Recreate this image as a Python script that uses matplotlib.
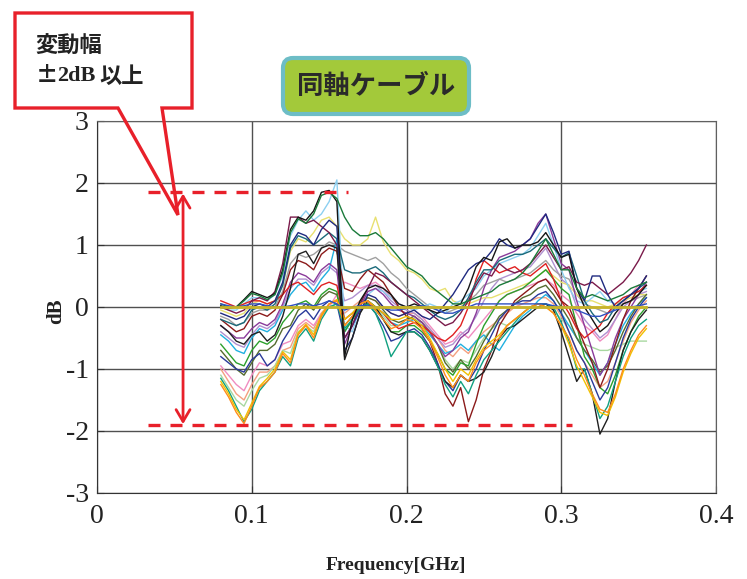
import matplotlib
matplotlib.use("Agg")
import matplotlib.pyplot as plt
from matplotlib.patches import Polygon, Rectangle, FancyBboxPatch
from matplotlib.transforms import IdentityTransform

plt.rcParams['axes.unicode_minus'] = False

# sampling grid (GHz)
freq = [0.080, 0.085, 0.090, 0.095, 0.100, 0.105, 0.110, 0.115,
        0.120, 0.125, 0.130, 0.135, 0.140, 0.145, 0.150, 0.155,
        0.160, 0.165, 0.170, 0.175, 0.180, 0.185, 0.190, 0.195,
        0.200, 0.205, 0.210, 0.215, 0.220, 0.225, 0.230, 0.235,
        0.240, 0.245, 0.250, 0.255, 0.260, 0.265, 0.270, 0.275,
        0.280, 0.285, 0.290, 0.295, 0.300, 0.305, 0.310, 0.315,
        0.320, 0.325, 0.330, 0.335, 0.340, 0.345, 0.350, 0.355]

# dB deviation of each cable
green_top = [0.05, 0.00, 0.00, 0.10, 0.22, 0.18, 0.12, 0.20,
             0.55, 1.20, 1.42, 1.35, 1.50, 1.80, 1.85, 1.75,
             1.45, 1.25, 1.15, 1.15, 1.20, 1.10, 0.95, 0.80,
             0.65, 0.58, 0.50, 0.35, 0.25, 0.15, 0.05, 0.05,
             0.10, 0.15, 0.20, 0.25, 0.35, 0.40, 0.45, 0.55,
             0.70, 0.90, 1.10, 0.85, 0.60, 0.60, 0.30, 0.15,
             0.20, 0.15, 0.10, 0.15, 0.20, 0.30, 0.35, 0.40]
black_top = [0.02, -0.02, 0.00, 0.12, 0.25, 0.20, 0.15, 0.22,
             0.60, 1.25, 1.45, 1.40, 1.55, 1.85, 1.88, 1.70,
             -0.80, -0.20, 0.10, 0.30, 0.35, 0.30, 0.20, 0.05,
             0.00, 0.05, 0.00, -0.05, -0.10, -0.05, 0.00, 0.05,
             0.30, 0.65, 0.80, 0.75, 1.05, 1.10, 0.95, 1.00,
             1.00, 1.05, 1.20, 1.00, 0.80, 0.85, 0.30, 0.00,
             -0.20, -0.40, -0.30, -0.10, 0.05, 0.10, 0.20, 0.35]
lightblue = [0.00, -0.05, -0.05, 0.05, 0.15, 0.15, 0.10, 0.20,
             0.50, 1.15, 1.40, 1.55, 1.40, 1.50, 1.70, 2.05,
             -0.30, -0.40, 0.00, 0.20, 0.30, 0.25, 0.15, 0.05,
             0.00, -0.05, 0.00, 0.05, 0.00, -0.10, 0.05, 0.10,
             0.20, 0.30, 0.50, 0.60, 0.70, 0.75, 0.80, 0.85,
             0.95, 1.15, 1.35, 1.00, 0.60, 0.30, 0.10, 0.05,
             0.15, 0.25, 0.10, 0.05, 0.15, 0.20, 0.25, 0.30]
maroon = [0.00, -0.05, -0.10, -0.05, 0.10, 0.15, 0.10, 0.25,
          0.70, 1.45, 1.45, 1.35, 1.40, 1.30, 1.20, 1.00,
          -0.50, -0.30, 0.05, 0.30, 0.55, 0.50, 0.40, 0.30,
          0.20, 0.10, 0.00, -0.10, -0.20, -0.30, -0.25, -0.10,
          0.10, 0.35, 0.55, 0.50, 0.70, 0.60, 0.55, 0.60,
          0.70, 0.85, 1.00, 0.80, 0.60, 0.65, 0.40, 0.35,
          0.40, 0.30, 0.20, 0.30, 0.40, 0.55, 0.75, 1.00]
navy = [-0.10, -0.15, -0.20, -0.15, 0.00, 0.05, 0.00, 0.10,
        0.40, 1.00, 1.20, 1.15, 1.00, 1.25, 1.40, 1.30,
        -0.70, -0.50, -0.10, 0.20, 0.15, 0.00, -0.10, -0.15,
        -0.10, -0.05, -0.15, -0.20, -0.10, 0.05, 0.20, 0.40,
        0.60, 0.70, 0.75, 0.90, 1.10, 1.00, 0.95, 1.00,
        1.10, 1.30, 1.50, 1.20, 0.85, 0.90, 0.30, 0.10,
        0.50, 0.50, 0.20, 0.00, 0.10, 0.20, 0.30, 0.50]
paleyellow = [-0.05, -0.10, -0.15, -0.10, 0.05, 0.10, 0.05, 0.10,
              0.35, 0.90, 1.10, 1.05, 1.20, 1.40, 1.45, 1.30,
              1.10, 1.00, 1.00, 1.10, 1.45, 1.05, 0.85, 0.75,
              0.60, 0.55, 0.45, 0.30, 0.25, 0.30, 0.10, 0.05,
              0.05, 0.10, 0.15, 0.15, 0.20, 0.25, 0.30, 0.35,
              0.40, 0.50, 0.60, 0.50, 0.40, 0.35, 0.20, 0.10,
              0.10, 0.05, 0.00, 0.05, 0.10, 0.15, 0.20, 0.20]
gray = [-0.15, -0.20, -0.30, -0.25, -0.10, -0.05, -0.05, 0.00,
        0.25, 0.70, 0.85, 0.80, 0.85, 0.95, 1.05, 1.00,
        0.90, 0.85, 0.80, 0.75, 0.80, 0.70, 0.55, 0.45,
        0.30, 0.20, 0.10, 0.00, -0.05, -0.10, -0.05, 0.00,
        0.10, 0.20, 0.35, 0.40, 0.45, 0.40, 0.45, 0.50,
        0.55, 0.65, 0.75, 0.60, 0.50, 0.45, 0.20, 0.05,
        0.00, -0.05, -0.10, 0.00, 0.05, 0.10, 0.15, 0.20]
darkred = [-0.20, -0.30, -0.40, -0.35, -0.15, -0.10, -0.15, -0.05,
           0.20, 0.60, 0.75, 0.70, 0.60, 0.85, 0.95, 0.90,
           0.30, 0.25, 0.45, 0.60, 0.50, 0.40, 0.20, 0.00,
           -0.15, -0.20, -0.35, -0.55, -0.90, -1.40, -1.60, -1.30,
           -1.85, -1.50, -1.00, -0.70, -0.30, -0.10, 0.10, 0.20,
           0.30, 0.40, 0.45, 0.30, 0.10, 0.00, -0.30, -0.60,
           -0.90, -1.30, -1.00, -0.60, -0.20, 0.10, 0.30, 0.50]
purple = [-0.30, -0.40, -0.50, -0.50, -0.35, -0.25, -0.30, -0.20,
          0.05, 0.40, 0.55, 0.50, 0.40, 0.60, 0.70, 0.60,
          -0.60, -0.30, 0.00, 0.25, 0.30, 0.20, 0.05, -0.05,
          -0.10, -0.15, -0.25, -0.40, -0.60, -0.80, -0.70, -0.50,
          -0.40, -0.10, 0.30, 0.60, 0.80, 0.85, 0.90, 1.00,
          1.10, 1.35, 1.50, 1.10, 0.70, 0.60, 0.10, -0.30,
          -0.70, -1.10, -0.90, -0.50, -0.20, 0.00, 0.20, 0.40]
red = [0.10, 0.05, 0.00, 0.05, 0.10, 0.10, 0.05, 0.10,
       0.20, 0.35, 0.40, 0.30, 0.20, 0.35, 0.40, 0.35,
       -0.20, -0.10, 0.00, 0.05, 0.00, -0.10, -0.25, -0.35,
       -0.30, -0.25, -0.30, -0.40, -0.50, -0.55, -0.45, -0.30,
       0.00, 0.45, 0.75, 0.65, 0.55, 0.60, 0.65, 0.55,
       0.50, 0.60, 0.70, 0.45, 0.10, -0.10, -0.35, -0.50,
       -0.40, -0.30, -0.10, 0.05, 0.15, 0.20, 0.25, 0.35]
green = [-0.60, -0.75, -0.90, -0.95, -0.70, -0.55, -0.60, -0.50,
         -0.25, -0.10, 0.05, 0.10, 0.00, 0.20, 0.30, 0.25,
         -0.40, -0.20, 0.00, 0.05, -0.05, -0.20, -0.40, -0.40,
         -0.30, -0.30, -0.40, -0.55, -0.75, -1.00, -1.10, -0.90,
         -0.95, -0.60, -0.30, -0.10, 0.10, 0.20, 0.25, 0.30,
         0.40, 0.50, 0.60, 0.45, 0.30, 0.20, -0.30, -0.80,
         -1.00, -1.30, -1.40, -1.10, -0.70, -0.40, -0.15, 0.00]
cyan = [-0.45, -0.55, -0.70, -0.75, -0.50, -0.35, -0.40, -0.30,
        -0.05, 0.20, 0.35, 0.40, 0.25, 0.45, 0.60, 1.10,
        -0.40, -0.20, 0.05, 0.10, 0.00, -0.10, -0.25, -0.30,
        -0.25, -0.20, -0.30, -0.45, -0.60, -0.75, -0.70, -0.60,
        -0.70, -0.55, -0.45, -0.60, -0.70, -0.50, -0.30, -0.15,
        -0.05, 0.10, 0.20, 0.10, -0.10, -0.30, -0.50, -0.70,
        -0.90, -1.10, -0.90, -0.60, -0.30, -0.10, 0.05, 0.15]
navy_low = [-0.80, -0.90, -1.00, -1.05, -0.85, -0.75, -0.95, -0.85,
            -0.55, -0.35, -0.15, -0.05, -0.20, 0.00, 0.10, 0.05,
            -0.50, -0.30, -0.05, 0.05, -0.10, -0.30, -0.55, -0.50,
            -0.40, -0.35, -0.45, -0.65, -0.90, -1.20, -1.35, -1.10,
            -1.20, -1.00, -0.70, -0.45, -0.20, -0.05, 0.05, 0.10,
            0.10, 0.20, 0.25, 0.10, -0.10, -0.40, -0.70, -0.90,
            -1.20, -1.50, -1.30, -0.90, -0.50, -0.20, 0.00, 0.15]
pink = [-0.95, -1.10, -1.25, -1.35, -1.10, -0.90, -0.95, -0.85,
        -0.60, -0.55, -0.30, -0.20, -0.30, -0.10, 0.00, 0.20,
        0.40, 0.35, 0.30, 0.35, 0.40, 0.30, 0.15, 0.05,
        0.00, -0.05, -0.15, -0.30, -0.45, -0.60, -0.55, -0.40,
        -0.50, -0.35, -0.20, -0.05, 0.10, 0.20, 0.25, 0.30,
        0.35, 0.40, 0.45, 0.35, 0.20, 0.10, -0.10, -0.30,
        -0.40, -0.55, -0.45, -0.20, 0.05, 0.20, 0.35, 0.40]
lightgreen = [-1.10, -1.30, -1.50, -1.60, -1.35, -1.15, -1.10, -0.95,
              -0.70, -0.75, -0.40, -0.30, -0.40, -0.15, 0.00, 0.05,
              -0.20, -0.10, 0.05, 0.10, 0.00, -0.15, -0.30, -0.30,
              -0.20, -0.20, -0.25, -0.40, -0.60, -0.85, -1.00, -0.85,
              -0.90, -0.70, -0.50, -0.35, -0.25, -0.30, -0.20, -0.10,
              0.00, 0.05, 0.05, -0.05, -0.20, -0.30, -0.50, -0.60,
              -0.65, -0.70, -0.70, -0.65, -0.60, -0.55, -0.55, -0.55]
orange = [-1.25, -1.45, -1.70, -1.88, -1.60, -1.30, -1.20, -1.05,
          -0.75, -0.90, -0.45, -0.30, -0.50, -0.15, 0.05, 0.10,
          -0.30, -0.15, 0.05, 0.10, -0.05, -0.20, -0.35, -0.30,
          -0.20, -0.25, -0.35, -0.55, -0.80, -1.10, -1.30, -1.10,
          -1.20, -0.90, -0.70, -0.60, -0.50, -0.30, -0.20, -0.10,
          0.00, 0.05, 0.00, -0.10, -0.30, -0.50, -0.85, -1.10,
          -1.40, -1.65, -1.70, -1.40, -1.00, -0.70, -0.45, -0.30]
gold = [-1.20, -1.40, -1.65, -1.82, -1.55, -1.28, -1.15, -1.00,
        -0.72, -0.85, -0.42, -0.28, -0.45, -0.12, 0.05, 0.12,
        -0.20, -0.10, 0.05, 0.10, 0.00, -0.10, -0.20, -0.20,
        -0.15, -0.20, -0.30, -0.50, -0.75, -1.00, -1.20, -1.00,
        -1.10, -0.85, -0.65, -0.55, -0.45, -0.30, -0.20, -0.10,
        0.00, 0.05, 0.00, -0.10, -0.30, -0.60, -0.95, -1.20,
        -1.45, -1.70, -1.75, -1.45, -1.05, -0.75, -0.50, -0.35]
teal = [-1.15, -1.35, -1.60, -1.85, -1.65, -1.35, -1.20, -1.05,
        -0.80, -0.95, -0.50, -0.35, -0.55, -0.20, 0.00, 0.05,
        -0.35, -0.20, 0.00, 0.05, -0.10, -0.40, -0.80, -0.60,
        -0.40, -0.40, -0.50, -0.70, -0.95, -1.25, -1.45, -1.20,
        -1.40, -1.10, -0.85, -0.70, -0.55, -0.40, -0.25, -0.10,
        0.00, 0.05, 0.05, 0.00, -0.25, -0.55, -1.00, -1.00,
        -1.40, -1.80, -1.60, -1.20, -0.80, -0.50, -0.30, -0.20]
black_low = [-0.30, -0.40, -0.55, -0.60, -0.45, -0.40, -0.55, -0.45,
             -0.15, 0.30, 0.85, 0.90, 0.70, 0.95, 1.00, 0.95,
             -0.85, -0.50, -0.10, 0.10, 0.00, -0.20, -0.40, -0.45,
             -0.40, -0.40, -0.50, -0.70, -0.95, -1.20, -1.30, -1.10,
             -1.20, -1.15, -1.05, -0.80, -0.50, -0.35, -0.30, -0.20,
             -0.10, 0.00, 0.05, -0.05, -0.40, -0.80, -1.20, -1.00,
             -1.40, -2.05, -1.80, -1.20, -0.70, -0.40, -0.20, -0.05]
blue_flat = [0.05, 0.02, 0.00, 0.02, 0.05, 0.05, 0.02, 0.00,
             0.00, 0.02, 0.05, 0.05, 0.02, 0.05, 0.10, 0.05,
             -0.05, 0.00, 0.02, 0.02, 0.00, -0.02, -0.05, -0.05,
             -0.02, 0.00, 0.02, 0.00, -0.05, -0.10, -0.10, -0.05,
             0.00, 0.05, 0.05, 0.05, 0.05, 0.05, 0.05, 0.05,
             0.05, 0.05, 0.05, 0.02, 0.00, 0.00, -0.05, -0.10,
             -0.15, -0.15, -0.10, -0.05, 0.00, 0.00, 0.02, 0.05]
lilac = [-0.40, -0.50, -0.60, -0.65, -0.45, -0.30, -0.35, -0.25,
         0.00, 0.30, 0.45, 0.45, 0.35, 0.55, 0.65, 0.55,
         0.10, 0.15, 0.25, 0.35, 0.35, 0.25, 0.10, 0.00,
         -0.05, -0.10, -0.20, -0.35, -0.50, -0.65, -0.60, -0.45,
         -0.35, -0.15, 0.10, 0.30, 0.45, 0.50, 0.55, 0.60,
         0.65, 0.80, 0.95, 0.70, 0.45, 0.35, 0.00, -0.20,
         -0.35, -0.50, -0.40, -0.20, 0.00, 0.10, 0.20, 0.25]
olive = [-0.70, -0.85, -1.00, -1.10, -0.90, -0.70, -0.70, -0.60,
         -0.35, -0.30, -0.05, 0.05, -0.05, 0.15, 0.25, 0.20,
         -0.30, -0.15, 0.05, 0.15, 0.10, -0.05, -0.20, -0.25,
         -0.20, -0.15, -0.25, -0.40, -0.60, -0.90, -1.05, -0.85,
         -1.00, -0.80, -0.55, -0.35, -0.15, -0.05, 0.05, 0.15,
         0.20, 0.30, 0.35, 0.20, 0.00, -0.20, -0.50, -0.70,
         -0.85, -1.05, -0.95, -0.70, -0.40, -0.15, 0.05, 0.20]
salmon = [-1.00, -1.20, -1.40, -1.50, -1.25, -1.05, -1.05, -0.95,
          -0.70, -0.65, -0.35, -0.25, -0.35, -0.10, 0.05, 0.10,
          -0.10, 0.00, 0.10, 0.15, 0.10, 0.00, -0.10, -0.15,
          -0.10, -0.10, -0.20, -0.35, -0.50, -0.70, -0.80, -0.65,
          -0.75, -0.55, -0.40, -0.30, -0.20, -0.10, 0.00, 0.05,
          0.10, 0.15, 0.15, 0.05, -0.15, -0.40, -0.70, -0.90,
          -1.10, -1.30, -1.20, -0.90, -0.55, -0.25, -0.05, 0.10]
darkteal = [-0.20, -0.25, -0.30, -0.25, -0.05, 0.00, -0.05, 0.05,
            0.35, 0.95, 1.15, 1.10, 1.00, 1.10, 1.20, 1.10,
            0.60, 0.55, 0.55, 0.60, 0.65, 0.55, 0.40, 0.30,
            0.20, 0.15, 0.05, -0.05, -0.15, -0.20, -0.15, -0.05,
            0.15, 0.40, 0.60, 0.60, 0.75, 0.80, 0.85, 0.85,
            0.90, 1.00, 1.10, 0.95, 0.80, 0.88, 0.50, 0.10,
            -0.10, -0.25, -0.20, 0.00, 0.10, 0.20, 0.30, 0.40]
reference = [0.0, 0.0, 0.0, 0.0, 0.0, 0.0, 0.0, 0.0,
             0.0, 0.0, 0.0, 0.0, 0.0, 0.0, 0.0, 0.0,
             0.0, 0.0, 0.0, 0.0, 0.0, 0.0, 0.0, 0.0,
             0.0, 0.0, 0.0, 0.0, 0.0, 0.0, 0.0, 0.0,
             0.0, 0.0, 0.0, 0.0, 0.0, 0.0, 0.0, 0.0,
             0.0, 0.0, 0.0, 0.0, 0.0, 0.0, 0.0, 0.0,
             0.0, 0.0, 0.0, 0.0, 0.0, 0.0, 0.0, 0.0]

# spread markers (dB) and their extents (GHz)
spread_top, spread_bottom = 1.86, -1.91
top_span = (0.033, 0.162)
bottom_span = (0.033, 0.307)
arrow_x = 0.0556

xticks = [0, 0.1, 0.2, 0.3, 0.4]
xticklabels = ['0', '0.1', '0.2', '0.3', '0.4']
yticks = [-3, -2, -1, 0, 1, 2, 3]

curves = [
    (salmon, '#f4a080'), (lightgreen, '#a8d8a0'), (pink, '#f08cc0'),
    (lilac, '#b090d0'), (gray, '#a0a0a0'), (paleyellow, '#e8e070'),
    (cyan, '#20b0e0'), (lightblue, '#8ccff0'), (olive, '#556b2f'),
    (green, '#2ca02c'), (purple, '#8a3a9a'), (red, '#e02020'),
    (darkred, '#8b1a1a'), (navy_low, '#2a3a9a'), (darkteal, '#1a6a7a'),
    (maroon, '#7a1a4a'), (navy, '#1f2a80'), (black_low, '#202020'),
    (teal, '#10a080'), (gold, '#f0c000'), (orange, '#ff8c1a'),
    (black_top, '#151515'), (green_top, '#1a7a3a'), (blue_flat, '#3050c0'),
]

RED = '#e8202a'
W, H = 747, 579

fig = plt.figure(figsize=(W / 100, H / 100), dpi=100)
ax = fig.add_axes([97 / W, 86 / H, 619 / W, 372 / H])

for vals, col in curves:
    ax.plot(freq, vals, color=col, lw=1.0, zorder=3)
ax.plot(freq, reference, color='#c8b428', lw=2.0, zorder=4)

ax.hlines(spread_top, *top_span, colors=RED, lw=2.4, linestyles=(0, (3.6, 3.0)), zorder=5)
ax.hlines(spread_bottom, *bottom_span, colors=RED, lw=2.4, linestyles=(0, (3.6, 3.0)), zorder=5)
ax.annotate('', xy=(arrow_x, spread_top - 0.03), xytext=(arrow_x, spread_bottom + 0.02),
            arrowprops=dict(arrowstyle='<->,head_length=0.85,head_width=0.5',
                            color=RED, lw=2.0, shrinkA=0, shrinkB=0), zorder=5)

ax.set_xlim(0, 0.4)
ax.set_ylim(-3, 3)
ax.set_xticks(xticks)
ax.set_xticklabels(xticklabels)
ax.set_yticks(yticks)
ax.grid(True, color='#505050', lw=1.0)
ax.set_axisbelow(True)
for s in ax.spines.values():
    s.set_color('#606060')
ax.spines['left'].set_color('#333333')
ax.spines['bottom'].set_color('#333333')
ax.tick_params(direction='in', length=5, color='#333333', labelsize=20,
               labelcolor='#222222')
ax.tick_params(axis='x', pad=8)
ax.tick_params(axis='y', pad=6)
for lab in ax.get_xticklabels() + ax.get_yticklabels():
    lab.set_family('Liberation Serif')

ax.set_xlabel('Frequency[GHz]', fontsize=14, fontweight='bold',
              family='Liberation Serif', color='#222222')
ax.xaxis.set_label_coords(0.483, -0.172)
ax.set_ylabel('dB', fontsize=15, fontweight='bold',
              family='Liberation Serif', color='#222222')
ax.yaxis.set_label_coords(-0.05, 0.49)

# callout box (pixel coordinates, origin top-left)
def px(x, y):
    return (x, H - y)

ident = IdentityTransform()
fig.add_artist(Rectangle(px(15, 108), 177, 95, transform=ident,
                         fc='white', ec='none', zorder=10))
outline = [px(15, 13), px(192, 13), px(192, 108), px(162, 108),
           px(178, 215), px(118, 108), px(15, 108)]
fig.add_artist(Polygon(outline, closed=True, transform=ident, fill=False,
                       ec=RED, lw=2.4, joinstyle='miter', zorder=11))
txt = dict(fontsize=16, fontweight='bold', color='#222222', va='center', zorder=12)
fig.text(35 / W, 1 - 46 / H, '変動幅', family=['Noto Sans CJK JP'], **txt)
fig.text(36 / W, 1 - 76 / H, '±', family=['Noto Sans CJK JP'], **txt)
fig.text(57 / W, 1 - 76 / H, '2dB', family=['Liberation Serif'], **txt)
fig.text(99 / W, 1 - 76 / H, '以上', family=['Noto Sans CJK JP'], **txt)

# title label
fig.add_artist(FancyBboxPatch(px(283, 114), 186, 56, transform=ident,
                              boxstyle='round,pad=0,rounding_size=10',
                              fc='#a3c93a', ec='#6dbdc6', lw=3.0, zorder=10))
fig.text(376 / W, 1 - 86 / H, '同軸ケーブル', fontsize=19, fontweight='bold',
         family=['Noto Sans CJK JP'], color='#2a2a2a', ha='center', va='center',
         zorder=12)

fig.savefig('out.png', dpi=100)
